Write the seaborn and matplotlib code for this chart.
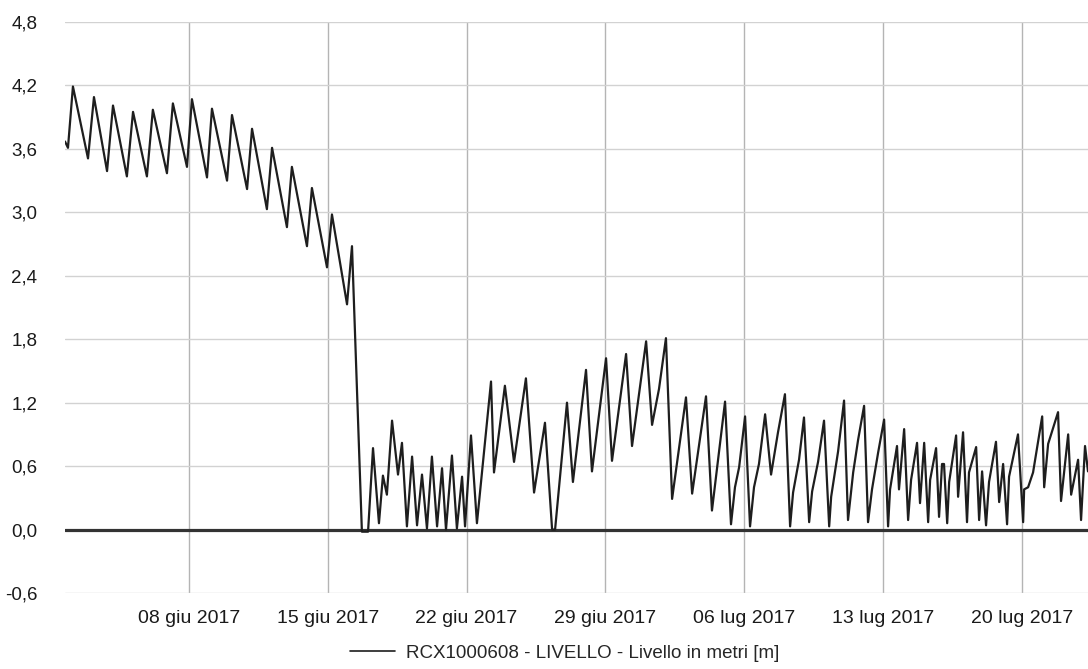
import numpy as np
import pandas as pd
import matplotlib
matplotlib.use("Agg")
import matplotlib.pyplot as plt
import matplotlib.dates as mdates
from matplotlib.lines import Line2D
import seaborn as sns

# time of each reading, in days after 2017-06-01 00:00
days = [0.75, 0.90, 1.15, 1.91, 2.21, 2.87, 3.17, 3.87, 4.18, 4.88,
        5.18, 5.89, 6.19, 6.90, 7.15, 7.91, 8.16, 8.92, 9.17, 9.93,
        10.18, 10.93, 11.19, 11.94, 12.19, 12.95, 13.20, 13.96, 14.21, 14.97,
        15.22, 15.72, 16.03, 16.28, 16.58, 16.78, 16.98, 17.24, 17.54, 17.74,
        17.99, 18.25, 18.50, 18.75, 19.00, 19.25, 19.51, 19.76, 19.96, 20.26,
        20.51, 20.77, 20.92, 21.22, 21.52, 22.23, 22.38, 22.93, 23.39, 23.99,
        24.40, 24.95, 25.31, 25.46, 26.06, 26.36, 27.02, 27.32, 28.03, 28.33,
        29.04, 29.34, 30.05, 30.35, 30.70, 31.05, 31.36, 32.06, 32.37, 33.07,
        33.37, 34.03, 34.33, 34.53, 34.74, 35.04, 35.29, 35.49, 35.74, 36.05,
        36.35, 36.70, 37.05, 37.31, 37.46, 37.76, 38.01, 38.27, 38.42, 38.72,
        39.02, 39.28, 39.38, 39.73, 40.03, 40.23, 40.49, 40.74, 41.04, 41.24,
        41.44, 41.75, 42.05, 42.25, 42.35, 42.70, 42.80, 43.06, 43.26, 43.41,
        43.71, 43.86, 44.07, 44.27, 44.37, 44.67, 44.82, 44.97, 45.07, 45.23,
        45.33, 45.68, 45.78, 46.03, 46.23, 46.33, 46.69, 46.84, 46.99, 47.19,
        47.34, 47.69, 47.85, 48.05, 48.25, 48.35, 48.80, 49.06, 49.11, 49.31,
        49.56, 50.02, 50.12, 50.32, 50.82, 50.97, 51.33, 51.48, 51.83, 51.98,
        52.18, 52.33]

# level in metres
livello = [3.67, 3.61, 4.19, 3.51, 4.09, 3.39, 4.01, 3.34, 3.95, 3.34,
           3.97, 3.37, 4.03, 3.43, 4.07, 3.33, 3.98, 3.30, 3.92, 3.22,
           3.79, 3.03, 3.61, 2.86, 3.43, 2.68, 3.23, 2.48, 2.98, 2.13,
           2.68, -0.02, -0.02, 0.77, 0.06, 0.51, 0.33, 1.03, 0.52, 0.82,
           0.03, 0.69, 0.04, 0.52, 0.01, 0.69, 0.03, 0.58, 0.00, 0.70,
           0.01, 0.50, 0.03, 0.89, 0.06, 1.40, 0.54, 1.36, 0.64, 1.43,
           0.35, 1.01, 0.00, 0.00, 1.20, 0.45, 1.51, 0.55, 1.62, 0.65,
           1.66, 0.79, 1.78, 0.99, 1.33, 1.81, 0.29, 1.25, 0.34, 1.26,
           0.18, 1.21, 0.05, 0.40, 0.59, 1.07, 0.03, 0.40, 0.62, 1.09,
           0.52, 0.92, 1.28, 0.03, 0.35, 0.66, 1.06, 0.07, 0.36, 0.64,
           1.03, 0.03, 0.31, 0.74, 1.22, 0.09, 0.54, 0.85, 1.17, 0.07,
           0.38, 0.73, 1.04, 0.03, 0.38, 0.79, 0.38, 0.95, 0.09, 0.47,
           0.82, 0.25, 0.82, 0.07, 0.47, 0.77, 0.12, 0.62, 0.62, 0.06,
           0.45, 0.89, 0.31, 0.92, 0.07, 0.54, 0.78, 0.09, 0.55, 0.04,
           0.45, 0.83, 0.26, 0.62, 0.05, 0.50, 0.90, 0.07, 0.38, 0.40,
           0.54, 1.07, 0.40, 0.81, 1.11, 0.27, 0.90, 0.33, 0.66, 0.09,
           0.79, 0.55]

tick_dates = ["2017-06-08", "2017-06-15", "2017-06-22", "2017-06-29",
              "2017-07-06", "2017-07-13", "2017-07-20"]
tick_labels = ["08 giu 2017", "15 giu 2017", "22 giu 2017", "29 giu 2017",
               "06 lug 2017", "13 lug 2017", "20 lug 2017"]
y_ticks = [-0.6, 0.0, 0.6, 1.2, 1.8, 2.4, 3.0, 3.6, 4.2, 4.8]
y_labels = ["-0,6", "0,0", "0,6", "1,2", "1,8", "2,4", "3,0", "3,6", "4,2", "4,8"]
serie = "RCX1000608 - LIVELLO - Livello in metri [m]"

start = pd.Timestamp("2017-06-01")
df = pd.DataFrame({"time": start + pd.to_timedelta(days, unit="D"),
                   "livello": livello})

sns.set_theme(style="white")
plt.rcParams["font.family"] = ["Liberation Sans", "DejaVu Sans"]

fig = plt.figure(figsize=(10.88, 6.69), dpi=100)
ax = fig.add_axes([65 / 1088, 1 - 593 / 669, 1 - 65 / 1088, 571 / 669])

# grid first so it stays behind the data
for t in tick_dates:
    ax.axvline(pd.Timestamp(t), color="#b4b4b4", lw=1, zorder=0)
for v in y_ticks:
    ax.axhline(v, color="#d2d2d2", lw=1, zorder=0)
ax.axhline(0, color="#333333", lw=2.3, zorder=1)

sns.lineplot(data=df, x="time", y="livello", ax=ax, color="#1e1e1e",
             lw=1.6, zorder=3, legend=False)

ax.set_xlim(start + pd.Timedelta(days=days[0]), start + pd.Timedelta(days=days[-1]))
ax.set_ylim(-0.6, 4.8)
ax.set_xticks([pd.Timestamp(t) for t in tick_dates])
ax.set_xticklabels(tick_labels, fontsize=14, color="#1a1a1a")
ax.set_yticks(y_ticks)
ax.set_yticklabels(y_labels, fontsize=13.5, color="#1a1a1a")
ax.tick_params(axis="x", length=0, pad=12)
ax.tick_params(axis="y", length=0, pad=20)
ax.set_xlabel("")
ax.set_ylabel("")
for s in ax.spines.values():
    s.set_visible(False)

handle = Line2D([], [], color="#1e1e1e", lw=1.2)
fig.legend([handle], [serie], loc="center", bbox_to_anchor=(0.519, 1 - 653 / 669),
           frameon=False, fontsize=13.5, handlelength=2.4, handletextpad=0.6)

fig.savefig("out.png", dpi=100, facecolor="white")
